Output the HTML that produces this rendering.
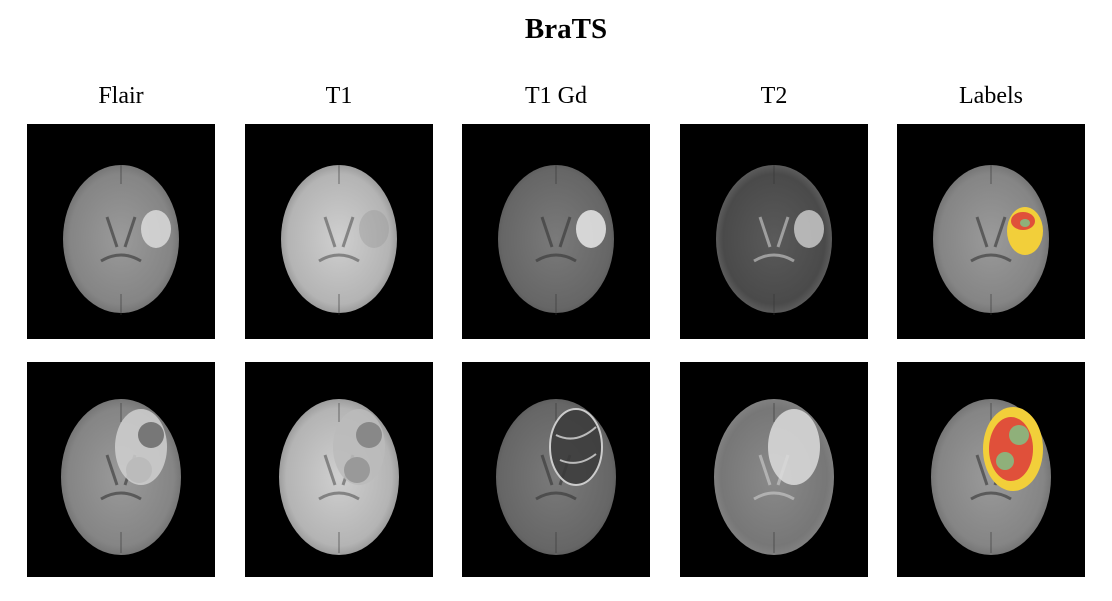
<!DOCTYPE html>
<html>
<head>
<meta charset="utf-8">
<style>
  html,body{margin:0;padding:0;background:#fff;}
  body{width:1112px;height:596px;overflow:hidden;font-family:"Liberation Serif",serif;}
</style>
</head>
<body>
<svg width="1112" height="596" viewBox="0 0 1112 596" xmlns="http://www.w3.org/2000/svg">
  <defs>
    <radialGradient id="gFlair" cx="50%" cy="50%" r="55%">
      <stop offset="0" stop-color="#9a9a9a"/><stop offset="0.8" stop-color="#858585"/><stop offset="1" stop-color="#6a6a6a"/>
    </radialGradient>
    <radialGradient id="gT1" cx="50%" cy="50%" r="55%">
      <stop offset="0" stop-color="#cfcfcf"/><stop offset="0.8" stop-color="#b4b4b4"/><stop offset="1" stop-color="#8a8a8a"/>
    </radialGradient>
    <radialGradient id="gT1Gd" cx="50%" cy="50%" r="55%">
      <stop offset="0" stop-color="#7a7a7a"/><stop offset="0.85" stop-color="#666"/><stop offset="1" stop-color="#555"/>
    </radialGradient>
    <radialGradient id="gT2" cx="50%" cy="50%" r="55%">
      <stop offset="0" stop-color="#5a5a5a"/><stop offset="0.8" stop-color="#4a4a4a"/><stop offset="1" stop-color="#6a6a6a"/>
    </radialGradient>
    <radialGradient id="gT2b" cx="50%" cy="50%" r="55%">
      <stop offset="0" stop-color="#8a8a8a"/><stop offset="0.8" stop-color="#777"/><stop offset="1" stop-color="#888"/>
    </radialGradient>
  </defs>

  <text x="566" y="38" text-anchor="middle" font-size="29" font-weight="bold" fill="#000">BraTS</text>

  <g font-size="24" fill="#000" text-anchor="middle">
    <text x="121" y="103">Flair</text>
    <text x="339" y="103">T1</text>
    <text x="556" y="103">T1 Gd</text>
    <text x="774" y="103">T2</text>
    <text x="991" y="103">Labels</text>
  </g>

  <g id="panels"></g>
</svg>
<script>
const cols = [27, 245, 462, 680, 897];
const rows = [124, 362];
const fills = ['gFlair','gT1','gT1Gd','gT2','gFlair'];
const names = ['flair','t1','t1gd','t2','labels'];
const NS = 'http://www.w3.org/2000/svg';
const g = document.getElementById('panels');
function mk(tag, attrs, parent){
  const e = document.createElementNS(NS, tag);
  for (const k in attrs) e.setAttribute(k, attrs[k]);
  parent.appendChild(e);
  return e;
}
rows.forEach((ry, ri) => {
  cols.forEach((cx, ci) => {
    const grp = mk('g', {}, g);
    
    
    mk('rect', {x:cx, y:ry, width:188, height:215, fill:'#000'}, grp);
    const bx = cx + 94, by = ry + 115;
    let fill = fills[ci];
    if (ci === 3 && ri === 1) fill = 'gT2b';
    const brain = mk('ellipse', {cx:bx, cy:by, rx:ri ? 60 : 58, ry:ri ? 78 : 74, fill:'url(#' + fill + ')'}, grp);
    
    
    const vcol = ci === 3 ? '#cfcfcf' : (ci === 1 ? '#555' : '#333');
    mk('path', {d:`M${bx-14} ${by-22} q6 18 10 30 M${bx+14} ${by-22} q-6 18 -10 30`, stroke:vcol, 'stroke-width':3, fill:'none', opacity:0.6}, grp);
    mk('path', {d:`M${bx-20} ${by+22} q20 -12 40 0`, stroke:vcol, 'stroke-width':3, fill:'none', opacity:0.6}, grp);
    mk('line', {x1:bx, y1:by-74, x2:bx, y2:by-55, stroke:'#333', 'stroke-width':1, opacity:0.6}, grp);
    mk('line', {x1:bx, y1:by+55, x2:bx, y2:by+76, stroke:'#333', 'stroke-width':1, opacity:0.6}, grp);
    if (ri === 0) {
      const tc = [ '#e0e0e0', '#999', '#f0f0f0', '#d0d0d0', '#e8e8e8'][ci];
      mk('ellipse', {cx:bx+35, cy:by-10, rx:15, ry:19, fill:tc, opacity: ci===1?0.4:0.8}, grp);
      if (ci === 4) {
        mk('ellipse', {cx:bx+34, cy:by-8, rx:18, ry:24, fill:'#f2cf3a'}, grp);
        mk('ellipse', {cx:bx+32, cy:by-18, rx:12, ry:9, fill:'#e0503a'}, grp);
        mk('ellipse', {cx:bx+34, cy:by-16, rx:5, ry:4, fill:'#8fb07a'}, grp);
      }
    } else {
      const tc = ['#d0d0d0','#bbb','#3a3a3a','#dcdcdc','#d8d8d8'][ci];
      mk('ellipse', {cx:bx+20, cy:by-30, rx:26, ry:38, fill:tc, opacity:0.85}, grp);
      if (ci === 2) {
        mk('ellipse', {cx:bx+20, cy:by-30, rx:26, ry:38, fill:'none', stroke:'#ccc', 'stroke-width':2}, grp);
        mk('path', {d:`M${bx} ${by-42} q20 10 40 -8 M${bx+4} ${by-17} q18 8 36 -6`, stroke:'#bbb', 'stroke-width':2, fill:'none'}, grp);
      }
      if (ci === 0 || ci === 1) {
        mk('circle', {cx:bx+30, cy:by-42, r:13, fill:ci?'#888':'#777'}, grp);
        mk('circle', {cx:bx+18, cy:by-7, r:13, fill:ci?'#999':'#bbb'}, grp);
      }
      if (ci === 4) {
        mk('ellipse', {cx:bx+22, cy:by-28, rx:30, ry:42, fill:'#f2cf3a'}, grp);
        mk('ellipse', {cx:bx+20, cy:by-28, rx:22, ry:32, fill:'#e0503a'}, grp);
        mk('circle', {cx:bx+28, cy:by-42, r:10, fill:'#8fb07a'}, grp);
        mk('circle', {cx:bx+14, cy:by-16, r:9, fill:'#8fb07a'}, grp);
      }
    }
  });
});
</script>
</body>
</html>
